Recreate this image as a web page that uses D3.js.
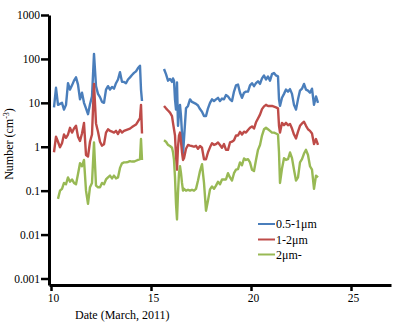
<!DOCTYPE html>
<html><head><meta charset="utf-8">
<script src="https://cdn.jsdelivr.net/npm/d3@7"></script>
<style>
html,body{margin:0;padding:0;background:#fff;}
svg{display:block;font-family:"Liberation Serif","Times New Roman",serif;}
</style></head>
<body>
<script>
// ---- data ----
const seriesNames = ["0.5-1\u03bcm", "1-2\u03bcm", "2\u03bcm-"];
const colors = ["#4a7ebb", "#be4b48", "#98b954"];
const xTicks = [10, 15, 20, 25];
const yTicks = [0.001, 0.01, 0.1, 1, 10, 100, 1000];
const yTickLabels = ["0.001", "0.01", "0.1", "1", "10", "100", "1000"];

const dates1 = [10.15,10.25,10.35,10.45,10.55,10.65,10.75,10.85,10.95,
  11.05,11.15,11.25,11.35,11.45,11.55,11.65,11.75,11.85,11.95,
  12.05,12.15,12.25,12.35,12.45,12.55,12.65,12.75,12.85,12.95,
  13.05,13.15,13.25,13.35,13.45,13.55,13.65,13.75,13.85,13.95,
  14.05,14.15,14.25,14.35,14.45,14.5,14.55];
const blue1 = [7.9,22,9,9.5,10,7,9,28,20,
  25,32,38,26,12,17,10,7.5,5.5,9.3,
  14,130,24,16,13.5,10.5,10,20,24,20,
  23,21,28,34,50,30,30,28,34,38,
  43,48,52,62,70,20,11];
const red1 = [0.75,1.7,1.3,0.97,1.2,1.9,1.6,1.9,2.7,
  2.1,2.6,3.0,1.7,1.36,2.0,3.5,0.65,0.6,1.3,
  1.9,27,3.4,2.2,1.3,1.06,1.14,2.1,2.5,2.3,
  2.2,2.1,2.3,1.95,2.4,2.1,2.3,2.4,2.5,2.6,
  2.8,3.0,3.2,3.8,4.5,9,2.0];
const green1 = [null,null,0.065,0.1,0.11,0.15,0.14,0.2,0.16,
  0.18,0.15,0.14,0.24,0.42,0.36,0.5,0.1,0.05,0.12,
  0.15,1.25,0.13,0.12,0.12,0.15,0.14,0.18,0.2,0.22,
  0.19,0.22,0.19,0.2,0.33,0.42,0.44,0.44,0.45,0.47,
  0.46,0.46,0.48,0.5,0.52,1.5,0.5];

const dates2 = [15.65,15.75,15.85,15.95,16.05,16.1,16.15,16.2,16.25,16.3,16.35,16.4,16.45,16.5,16.55,16.6,16.65,16.75,16.85,16.95,
  17.05,17.15,17.25,17.35,17.45,17.55,17.65,17.75,17.85,17.95,
  18.05,18.15,18.25,18.35,18.45,18.55,18.65,18.75,18.85,18.95,
  19.05,19.15,19.25,19.35,19.45,19.55,19.65,19.75,19.85,19.95,
  20.05,20.15,20.25,20.35,20.45,20.55,20.65,20.75,20.85,20.95,
  21.05,21.15,21.25,21.35,21.4,21.45,21.55,21.65,21.75,21.85,21.95,
  22.05,22.15,22.25,22.35,22.45,22.55,22.65,22.75,22.85,22.95,
  23.05,23.15,23.25,23.35];
const blue2 = [59,45,32,35,30,36,32,12,7,29,3,6,9,5,2,0.7,1.5,7.5,8.5,12,
  10.5,10,9.5,8.7,7.2,6.3,5,5,7.5,10,
  12,11,12,13,11,12.5,12,15,14,12,
  11,18,25,26,17,13,17,18,18,25,
  28,24,28,31,27,36,42,34,40,32,
  45,48,42,40,12,8.5,13,16,20,18,20.5,
  16,9,7,12,19,21,27,20,19,17,
  21,9,14,10];
const red2 = [8.5,7.5,6.7,6,5,3.5,2.5,1.8,0.6,0.3,1.0,1.8,2.1,1.3,0.75,0.5,0.55,0.9,1.1,1.06,
  1.04,1.0,1.05,0.9,1.04,0.95,0.52,0.52,0.75,0.97,
  1.2,1.1,1.15,1.25,1.1,0.95,1.15,0.85,0.85,1.25,
  1.3,1.4,1.8,1.8,2.2,1.9,2.2,2.1,2.4,2.7,
  2.9,2.6,3.6,4.4,5.4,7.2,8.3,9,8.5,8.5,
  8.5,8.2,7.9,7.5,3,2.1,3.5,3.1,3.5,3.1,3.3,
  2.6,1.9,1.55,2.2,3,3.4,3.7,3.0,2.5,2.3,
  2.0,1.15,1.5,1.1];
const green2 = [1.4,1.3,1.1,1.04,0.95,0.75,0.5,0.2,0.05,0.022,0.09,0.25,0.36,0.25,0.15,0.1,0.11,0.1,0.105,0.1,
  0.105,0.1,0.11,0.17,0.28,0.4,0.15,0.035,0.06,0.107,
  0.125,0.11,0.13,0.16,0.14,0.18,0.18,0.18,0.25,0.2,
  0.17,0.25,0.3,0.31,0.44,0.38,0.54,0.5,0.52,0.44,
  0.3,0.28,0.5,0.85,1.1,1.8,2.5,2.7,2.5,2.3,
  2.1,2.1,2.0,1.9,0.74,0.15,0.32,0.55,0.5,0.52,0.74,
  0.55,0.3,0.17,0.2,0.44,0.52,0.7,0.85,0.65,0.36,
  0.3,0.11,0.22,0.2];

// ---- chart ----
const W = 401, H = 330;
const svg = d3.select("body").append("svg").attr("width", W).attr("height", H);

const x = d3.scaleLinear().domain([9.9, 27.0]).range([49, 391]);
const y = d3.scaleLog().domain([Math.pow(10, -3.148), 1000]).range([285, 15]);

const segments = [
  {dates: dates1, series: [blue1, red1, green1]},
  {dates: dates2, series: [blue2, red2, green2]}
];
const line = d3.line()
  .defined(d => d.v != null)
  .x(d => x(d.t))
  .y(d => y(d.v));

for (let s = 0; s < 3; s++) {
  segments.forEach(seg => {
    const pts = seg.dates.map((t, i) => ({t: t, v: seg.series[s][i]}));
    svg.append("path").datum(pts)
      .attr("fill", "none")
      .attr("stroke", colors[s])
      .attr("stroke-width", 2.4)
      .attr("stroke-linejoin", "round")
      .attr("d", line);
  });
}

// axes
const yAxis = d3.axisLeft(y).tickValues(yTicks)
  .tickFormat((d, i) => yTickLabels[i]).tickSize(8).tickSizeOuter(0).tickPadding(1);
const gy = svg.append("g").attr("transform", "translate(49,0)").call(yAxis);
gy.select(".domain").attr("stroke", "#000").attr("stroke-width", 3);
gy.selectAll(".tick line").attr("stroke", "#000").attr("stroke-width", 2.5);
gy.selectAll(".tick text").attr("font-family", "Liberation Serif, serif").attr("font-size", 11.5).attr("fill", "#000");

const xAxis = d3.axisBottom(x).tickValues(xTicks).tickSize(6).tickSizeOuter(0).tickPadding(3);
const gx = svg.append("g").attr("transform", "translate(0,285)").call(xAxis);
gx.select(".domain").attr("stroke", "#000").attr("stroke-width", 3);
gx.selectAll(".tick line").attr("stroke", "#000").attr("stroke-width", 2.5);
gx.selectAll(".tick text").attr("font-family", "Liberation Serif, serif").attr("font-size", 11.5).attr("fill", "#000").attr("dx", 2);

// axis titles
svg.append("text").attr("x", 75).attr("y", 319)
  .attr("font-size", 12).attr("fill", "#000").text("Date (March, 2011)");

const yl = svg.append("text")
  .attr("transform", "translate(13,144) rotate(-90)")
  .attr("text-anchor", "middle").attr("font-size", 12).attr("fill", "#000");
yl.append("tspan").text("Number (cm");
yl.append("tspan").attr("font-size", 8).attr("dy", -4).text("-3");
yl.append("tspan").attr("dy", 4).text(")");

// legend
const legY = [224, 239.5, 254.5];
seriesNames.forEach((n, i) => {
  svg.append("line").attr("x1", 258).attr("x2", 275)
    .attr("y1", legY[i]).attr("y2", legY[i])
    .attr("stroke", colors[i]).attr("stroke-width", 2);
  svg.append("text").attr("x", 276).attr("y", legY[i] + 4)
    .attr("font-size", 12).attr("fill", "#000").text(n);
});
</script>
</body></html>
